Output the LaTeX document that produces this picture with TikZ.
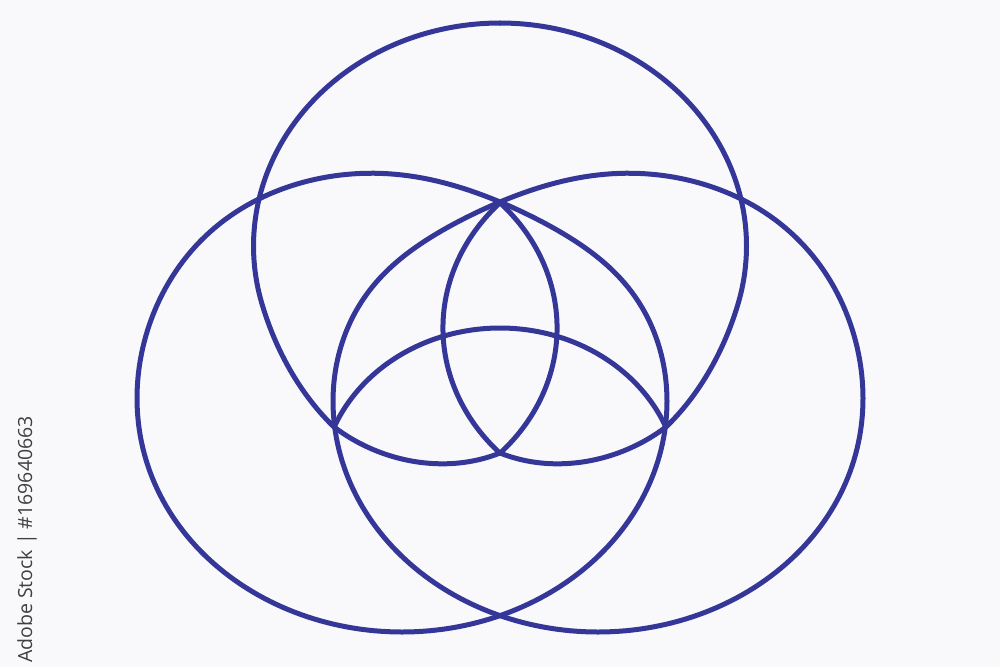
\documentclass[tikz,border=0pt]{standalone}
\usepackage{fontspec}
\newfontfamily\wmfont{Open Sans}
\definecolor{ink}{RGB}{52,54,152}
\definecolor{bgc}{RGB}{249,249,251}
\definecolor{wmc}{RGB}{64,64,64}
\begin{document}
\begin{tikzpicture}[x=1pt,y=-1pt,
  ring/.style={draw=ink, line width=5pt, line join=round, line cap=round},
  wmtext/.style={font=\wmfont\fontsize{19.5}{23}\selectfont, text=wmc, inner sep=0pt},
  declare function={
    bumpL(\t)=17*exp(max(-9,0-((\t-300)/30)*((\t-300)/30)))-10*exp(max(-9,0-((\t-220)/35)*((\t-220)/35)));
    sT(\t)=max(0,(165-\t)/39.3);
    devT(\t)=22*sT(\t)*sT(\t);
  }]
\useasboundingbox (0,0) rectangle (1000,667);
\fill[bgc] (0,0) rectangle (1000,667);
\clip (0,0) rectangle (1000,667);

\coordinate (P1) at (500,203);
\coordinate (P2) at (334.1,427);
\coordinate (P3) at (665.9,427);
\coordinate (P4) at (500,453);

% left big circle
\draw[ring] plot[domain=0:360, samples=241, variable=\t]
  ({402+265*cos(\t)}, {401+231*sin(\t)+bumpL(\t)}) -- cycle;
% right big circle (mirror)
\draw[ring] plot[domain=0:360, samples=241, variable=\t]
  ({598-265*cos(\t)}, {401+231*sin(\t)+bumpL(\t)}) -- cycle;

% top circle, upper part (two mirrored halves)
\draw[ring] plot[domain=125.7:270, samples=121, variable=\t]
  ({500+246.5*cos(\t)-devT(\t)}, {246+223*sin(\t)});
\draw[ring] plot[domain=125.7:270, samples=121, variable=\t]
  ({500-246.5*cos(\t)+devT(\t)}, {246+223*sin(\t)});
% its two lower bowls
\draw[ring] (P4) .. controls (445,475) and (380,462) .. (P2);
\draw[ring] (P4) .. controls (555,475) and (620,462) .. (P3);

% vesica
\draw[ring] plot[domain=-43.9:43.9, samples=61, variable=\t]
  ({500+1.13*(180.5*cos(\t)-130)}, {328+180.5*sin(\t)});
\draw[ring] plot[domain=-43.9:43.9, samples=61, variable=\t]
  ({500-1.13*(180.5*cos(\t)-130)}, {328+180.5*sin(\t)});

% lower arch
\draw[ring] plot[domain=22.41:157.59, samples=91, variable=\t]
  ({500+179.4*cos(\t)}, {488-160*sin(\t)});

\node[wmtext, rotate=90, anchor=base east] (wm) at (32,416) {Adobe Stock \textbar{} \#169640663};
\end{tikzpicture}
\end{document}
